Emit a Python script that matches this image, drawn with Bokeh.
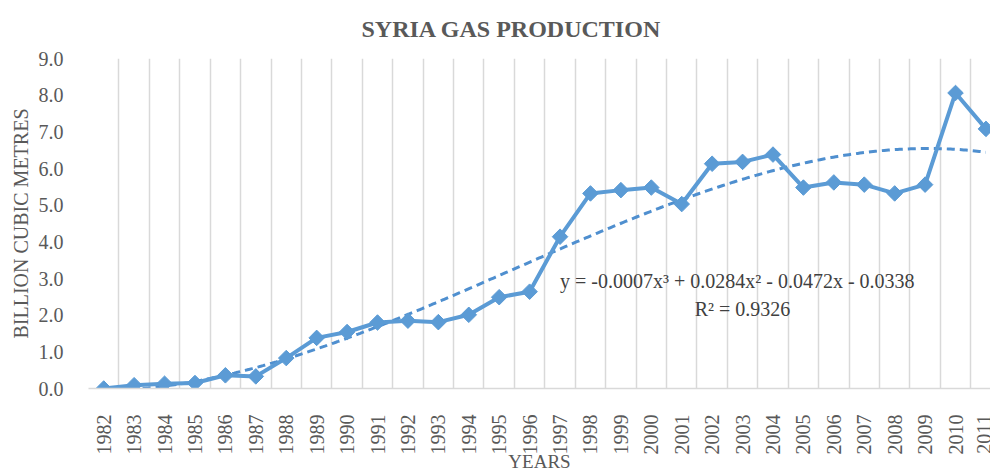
import numpy as np
from math import pi
from bokeh.plotting import figure
from bokeh.models import FixedTicker, Label, Range1d, NumeralTickFormatter, Title
from bokeh.embed import file_html
from bokeh.resources import INLINE

# ---- data ----
years = list(range(1982, 2012))
production = [0.00, 0.09, 0.13, 0.15, 0.36, 0.33, 0.83, 1.38, 1.54, 1.80,
              1.85, 1.81, 2.01, 2.49, 2.64, 4.14, 5.32, 5.41, 5.48, 5.03,
              6.13, 6.18, 6.38, 5.48, 5.62, 5.56, 5.32, 5.56, 8.06, 7.08]
y_ticks = [0, 1, 2, 3, 4, 5, 6, 7, 8, 9]
title_text = "SYRIA GAS PRODUCTION"
y_label = "BILLION CUBIC METRES"
x_label = "YEARS"
equation_text = "y = -0.0007x³ + 0.0284x² - 0.0472x - 0.0338"
r2_text = "R² = 0.9326"

# ---- polynomial (order 3) trendline fitted to the series ----
idx = np.arange(1, len(years) + 1)
coeffs = np.polyfit(idx, production, 3)
xs = np.linspace(1, len(years), 400)
trend_x = years[0] - 1 + xs
trend_y = np.polyval(coeffs, xs)

FONT = "Liberation Serif"
GREY = "#595959"
BLUE = "#5B9BD5"

p = figure(width=990, height=474,
           x_range=Range1d(1981.5, 2011.15), y_range=Range1d(0, 9),
           output_backend="svg", toolbar_location=None,
           min_border_left=88, min_border_right=0,
           min_border_top=58, min_border_bottom=80)
p.outline_line_color = None
p.background_fill_color = "white"

p.title = Title(text=title_text, align="left", offset=273,
                vertical_align="top", standoff=30,
                text_font=FONT, text_font_size="24px", text_font_style="bold",
                text_color=GREY)

# y axis
p.yaxis.ticker = FixedTicker(ticks=y_ticks)
p.yaxis.formatter = NumeralTickFormatter(format="0.0")
p.yaxis.axis_line_color = None
p.yaxis.major_tick_line_color = None
p.yaxis.minor_tick_line_color = None
p.yaxis.major_label_standoff = 19
p.yaxis.major_label_text_font = FONT
p.yaxis.major_label_text_font_size = "20px"
p.yaxis.major_label_text_color = GREY
p.yaxis.axis_label = y_label
p.yaxis.axis_label_text_font = FONT
p.yaxis.axis_label_text_font_size = "20px"
p.yaxis.axis_label_text_font_style = "normal"
p.yaxis.axis_label_text_color = GREY
p.yaxis.axis_label_standoff = 4
p.ygrid.grid_line_color = None

# x axis
p.xaxis.ticker = FixedTicker(ticks=years)
p.xaxis.major_label_orientation = pi / 2
p.xaxis.axis_line_color = "#d9d9d9"
p.xaxis.axis_line_width = 1.5
p.xaxis.major_tick_line_color = None
p.xaxis.minor_tick_line_color = None
p.xaxis.major_label_standoff = 20
p.xaxis.major_label_text_font = FONT
p.xaxis.major_label_text_font_size = "20px"
p.xaxis.major_label_text_color = GREY
p.xaxis.axis_label = x_label
p.xaxis.axis_label_text_font = FONT
p.xaxis.axis_label_text_font_size = "19px"
p.xaxis.axis_label_text_font_style = "normal"
p.xaxis.axis_label_text_color = GREY
p.xaxis.axis_label_standoff = -7
p.xgrid.ticker = FixedTicker(ticks=[y - 0.5 for y in years] + [years[-1] + 0.5])
p.xgrid.grid_line_color = "#d9d9d9"
p.xgrid.grid_line_width = 1.5

# series
p.line(trend_x, trend_y, line_color="#4f8fcf", line_width=3, line_dash="8 5")
p.line(years, production, line_color=BLUE, line_width=4)
p.scatter(years, production, marker="square", size=11, angle=pi / 4,
          fill_color=BLUE, line_color=BLUE)

# trendline texts
p.add_layout(Label(x=1997.0, y=2.93, text=equation_text, text_align="left",
                   text_baseline="middle", text_font=FONT, text_font_size="20px",
                   text_color="#404040"))
p.add_layout(Label(x=2003.0, y=2.17, text=r2_text, text_align="center",
                   text_baseline="middle", text_font=FONT, text_font_size="20px",
                   text_color="#404040"))

open("out.html", "w").write(file_html(p, INLINE))
